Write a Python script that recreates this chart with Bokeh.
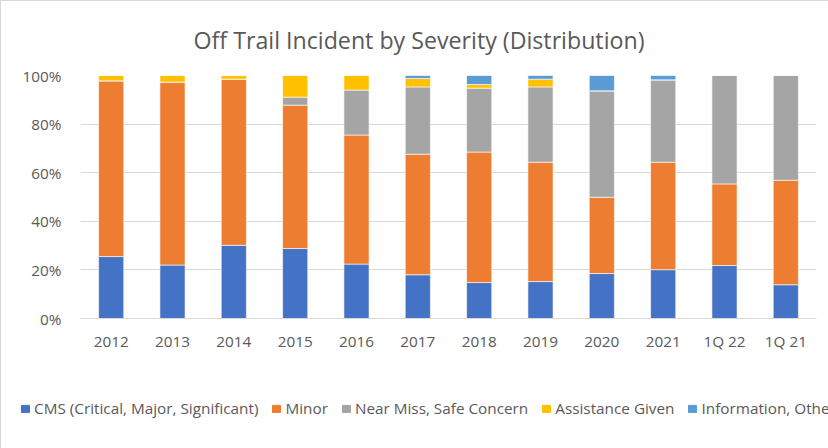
from bokeh.plotting import figure
from bokeh.layouts import column
from bokeh.models import FactorRange, Range1d, PrintfTickFormatter, Legend, LegendItem
from bokeh.embed import file_html
from bokeh.resources import INLINE

categories = ["2012", "2013", "2014", "2015", "2016", "2017", "2018", "2019", "2020", "2021", "1Q 22", "1Q 21"]
cms = [25.5, 22.0, 30.1, 28.8, 22.4, 18.0, 14.8, 15.2, 18.5, 20.1, 21.8, 13.9]
minor = [72.3, 75.3, 68.4, 59.0, 53.1, 49.6, 53.7, 49.1, 31.4, 44.2, 33.6, 43.0]
near_miss = [0.0, 0.0, 0.0, 3.3, 18.5, 27.7, 26.3, 31.0, 43.8, 33.9, 44.6, 43.1]
assistance = [2.2, 2.7, 1.5, 8.9, 6.0, 3.5, 1.5, 3.2, 0.0, 0.0, 0.0, 0.0]
information = [0.0, 0.0, 0.0, 0.0, 0.0, 1.2, 3.7, 1.5, 6.3, 1.8, 0.0, 0.0]

series_names = ["CMS (Critical, Major, Significant)", "Minor", "Near Miss, Safe Concern",
                "Assistance Given", "Information, Other"]
series_keys = ["cms", "minor", "near_miss", "assistance", "information"]
colors = ["#4472C4", "#ED7D31", "#A5A5A5", "#FFC000", "#5B9BD5"]

data = dict(x=categories, cms=cms, minor=minor, near_miss=near_miss,
            assistance=assistance, information=information)

FONT = "Open Sans"
TXT = "#595959"

p = figure(x_range=FactorRange(*categories, range_padding=0),
           y_range=Range1d(0, 100),
           width=828, height=358, output_backend="svg", toolbar_location=None,
           min_border_left=79, min_border_right=13, min_border_top=74, min_border_bottom=41,
           background_fill_color="white", border_fill_color="white")
p.styles = {"border-left": "1px solid #d9d9d9", "border-top": "1px solid #d9d9d9"}

renderers = p.vbar_stack(series_keys, x="x", width=0.41, source=data, color=colors,
                         line_color="white", line_width=0.6)

p.title.text = "Off Trail Incident by Severity (Distribution)"
p.title.align = "left"
p.title.offset = 113
p.title.text_font = FONT
p.title.text_font_size = "23.2px"
p.title.text_font_style = "normal"
p.title.text_color = TXT
p.title.standoff = 39

p.outline_line_color = None
p.xgrid.grid_line_color = None
p.ygrid.grid_line_color = "#d9d9d9"
p.ygrid.grid_line_width = 1

p.yaxis.ticker = [0, 20, 40, 60, 80, 100]
p.yaxis.formatter = PrintfTickFormatter(format="%d%%")
p.yaxis.axis_line_color = None
p.yaxis.major_tick_line_color = None
p.yaxis.minor_tick_line_color = None
p.yaxis.major_label_standoff = 13
p.xaxis.axis_line_color = "#d9d9d9"
p.xaxis.major_tick_line_color = None
p.xaxis.major_label_standoff = 6
for ax in (p.xaxis, p.yaxis):
    ax.major_label_text_font = FONT
    ax.major_label_text_font_size = "15.3px"
    ax.major_label_text_color = TXT

# legend strip below the chart (holds only the legend)
leg = figure(width=828, height=90, output_backend="svg", toolbar_location=None,
             x_range=Range1d(0, 1), y_range=Range1d(0, 1),
             x_axis_location=None, y_axis_location=None,
             min_border_left=0, min_border_right=0, min_border_top=0, min_border_bottom=0,
             background_fill_color="white", border_fill_color="white")
leg.styles = {"border-left": "1px solid #d9d9d9"}
leg.grid.visible = False
leg.outline_line_color = None
nan = float("nan")
dummy = [leg.vbar(x=[nan], top=[nan], width=1, color=c) for c in colors]
items = [LegendItem(label=n, renderers=[r]) for n, r in zip(series_names, dummy)]
legend = Legend(items=items, orientation="horizontal", location=(19, 30),
                glyph_width=10, glyph_height=9, label_standoff=4, spacing=13,
                padding=0, margin=0, label_height=16, label_width=0,
                label_text_font=FONT, label_text_font_size="15.3px",
                label_text_color=TXT, border_line_color=None,
                background_fill_alpha=0)
leg.add_layout(legend, "center")

layout = column(p, column(leg, spacing=0), spacing=0)
open("out.html", "w").write(file_html(layout, INLINE))
